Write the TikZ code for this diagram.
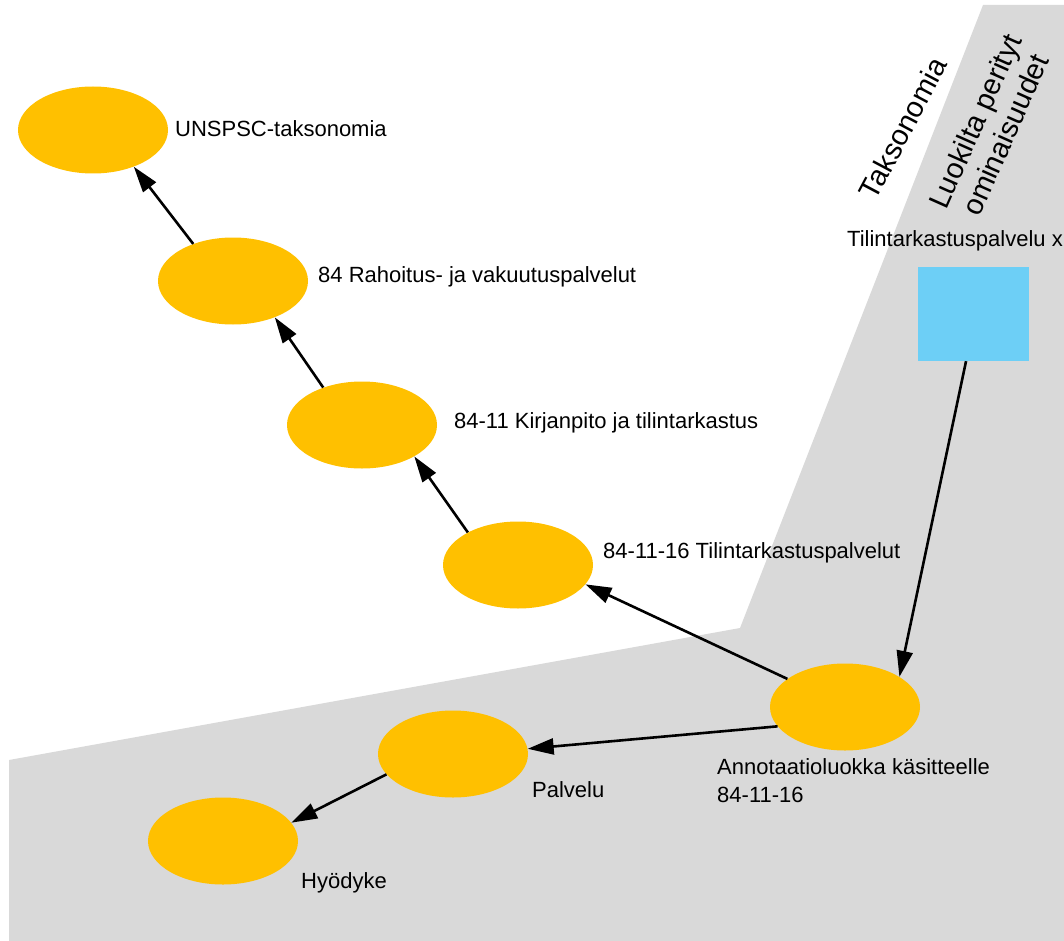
\documentclass[tikz,border=0pt]{standalone}
\usepackage{fontspec}
\setmainfont{Liberation Sans}
\usepackage{tikz}
\usetikzlibrary{shapes.geometric}
\usetikzlibrary{arrows.meta}
\definecolor{kelta}{HTML}{FFC000}
\definecolor{sini}{HTML}{6DCFF6}
\definecolor{harmaa}{HTML}{D9D9D9}

\begin{document}
\begin{tikzpicture}[x=1pt, y=-1pt,
	luokka/.style={ellipse, fill=kelta, minimum width=150, minimum height=87, inner sep=0pt},
	nimi/.style={anchor=base west, inner sep=0pt, font=\fontsize{22}{28}\selectfont},
	nuoli/.style={-{Triangle[length=26pt, width=16pt]}, line width=2.6pt}]
	\useasboundingbox (0,0) rectangle (1064,941);
	\fill[harmaa] (9,760) -- (740,628) -- (983,5) -- (1064,5) -- (1064,941) -- (9,941) -- cycle;	% background

	\node[luokka] (unspsc) at (93,130) {};		% taxonomy ellipses
	\node[luokka] (rahoitus) at (233,281) {};
	\node[luokka] (kirjanpito) at (362,425) {};
	\node[luokka] (tilintark) at (518,565) {};

	\node[nimi] (unspscT) at (175,137) {UNSPSC-taksonomia};
	\node[nimi] (rahoitusT) at (318,282) {84 Rahoitus- ja vakuutuspalvelut};
	\node[nimi] (kirjanpitoT) at (454,428) {84-11 Kirjanpito ja tilintarkastus};
	\node[nimi] (tilintarkT) at (603,558) {84-11-16 Tilintarkastuspalvelut};

	\node[luokka] (annot) at (845,707) {};		% lower ellipses
	\node[luokka] (palvelu) at (453,754) {};
	\node[luokka] (hyodyke) at (223,841) {};

	\node[nimi, align=left] (annotT) at (717,802) {Annotaatioluokka käsitteelle\\84-11-16};
	\node[nimi] (palveluT) at (532,797) {Palvelu};
	\node[nimi] (hyodykeT) at (301,888) {Hyödyke};

	\node[fill=sini, minimum width=111, minimum height=94, inner sep=0pt] (ominais) at (973.5,314) {};	% blue box
	\node[nimi] (ominaisT) at (847,247) {Tilintarkastuspalvelu x};

	\node[rotate=62, font=\fontsize{29}{34}\selectfont, inner sep=0pt] (taksoT) at (903,128) {Taksonomia};
	\node[rotate=66, font=\fontsize{29}{33}\selectfont, align=center, inner sep=0pt] (perityT) at (990,128) {Luokilta perityt\\ominaisuudet};

	\draw[nuoli] (rahoitus.137) -- (unspsc.-42);				% arrows
	\draw[nuoli] (kirjanpito.136) -- (rahoitus.-41);
	\draw[nuoli] (tilintark.147) -- (kirjanpito.-31);
	\draw[nuoli] (annot.154) -- (tilintark.-16);
	\draw[nuoli] (ominais.-99) -- (annot.29);
	\draw[nuoli] (annot.-164) -- (palvelu.4);
	\draw[nuoli] (palvelu.-163) -- (hyodyke.15);
\end{tikzpicture}
\end{document}
